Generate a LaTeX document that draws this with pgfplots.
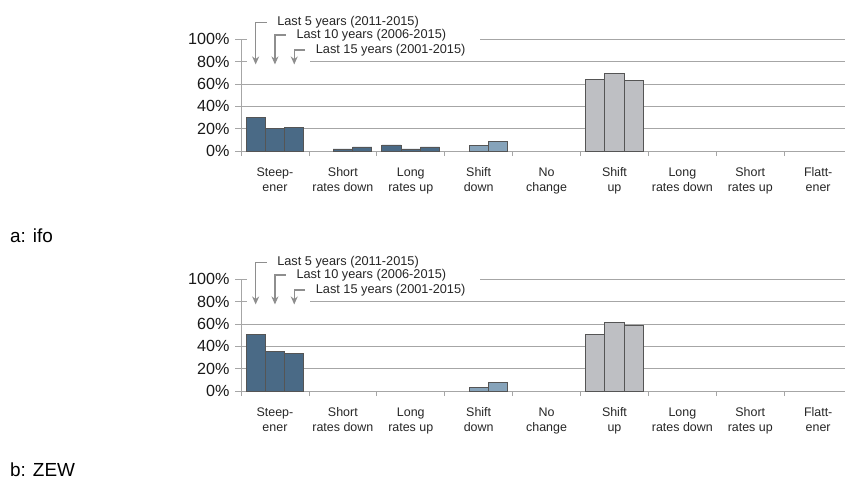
\documentclass[border=0pt]{standalone}
\usepackage{fontspec}
\setmainfont{Liberation Sans}
\usepackage{pgfplots}
\pgfplotsset{compat=1.18}
\usetikzlibrary{arrows.meta}
\definecolor{darkblue}{HTML}{4A6A86}
\definecolor{lightblue}{HTML}{86A3BA}
\definecolor{barggray}{HTML}{BEBFC3}
\definecolor{edgegray}{HTML}{555555}
\definecolor{gridgray}{HTML}{A6A6A6}
\definecolor{arrowgray}{HTML}{8E8E8E}

\pgfplotsset{
 panel/.style={
  scale only axis, width=604bp, height=111.7bp,
  xmin=-0.5, xmax=8.395, ymin=0, ymax=100,
  clip=false,
  axis lines*=left,
  axis line style={gridgray, line width=0.8bp},
  tick align=outside,
  tick style={gridgray, line width=0.8bp},
  major tick length=6bp, minor tick length=5bp,
  xtick={0,...,8},
  major x tick style={draw=none},
  minor xtick={-0.5,0.5,...,7.5},
  xticklabels={Steep-\\ener, Short\\rates down, Long\\rates up, Shift\\down, No\\change, Shift\\up, Long\\rates down, Short\\rates up, Flatt-\\ener},
  xticklabel style={align=center, font=\fontsize{12.5}{15}\selectfont, text=black!85, yshift=-7bp},
  ytick={0,20,...,100},
  yticklabels={0\%,20\%,40\%,60\%,80\%,100\%},
  yticklabel style={font=\fontsize{16.2}{19}\selectfont, text=black!90, xshift=-2bp},
  ymajorgrids, grid style={gridgray, line width=0.9bp},
  every axis plot/.append style={ybar, bar width=0.284, draw=edgegray, line width=0.9bp},
 },
 s1/.style={bar shift=-0.284},
 s2/.style={bar shift=0},
 s3/.style={bar shift=0.284},
}

\newcommand{\annot}{%
  \fill[white] (axis cs:-0.41,94.5) rectangle (axis cs:3.02,124);
  \fill[white] (axis cs:-0.41,76) rectangle (axis cs:0.516,87);
  \begin{scope}[arrowgray, line width=1.2bp, font=\fontsize{12.8}{15}\selectfont]
  \draw[-{Stealth[length=8bp,width=7bp]}] (axis cs:-0.122,114.9) -- (axis cs:-0.284,114.9) -- (axis cs:-0.284,77.5);
  \draw[-{Stealth[length=8bp,width=7bp]}] (axis cs:0.162,103.9) -- (axis cs:0,103.9) -- (axis cs:0,77.5);
  \draw[-{Stealth[length=8bp,width=7bp]}] (axis cs:0.446,90.4) -- (axis cs:0.284,90.4) -- (axis cs:0.284,77.5);
  \node[anchor=west, inner sep=0, text=black!85, xshift=10bp] at (axis cs:-0.122,114.9) {Last 5 years (2011-2015)};
  \node[anchor=west, inner sep=0, text=black!85, xshift=10bp] at (axis cs:0.162,103.9) {Last 10 years (2006-2015)};
  \node[anchor=west, inner sep=0, text=black!85, xshift=10bp] at (axis cs:0.446,90.4) {Last 15 years (2001-2015)};
  \end{scope}
}

\begin{document}
\begin{tikzpicture}
\useasboundingbox (0,-481bp) rectangle (845bp,0);
% Panel a: ifo
\begin{axis}[panel, at={(241bp,-151bp)}, anchor=south west]
 % last 5 years
 \addplot[s1, fill=darkblue] coordinates {(0,30) (2,5.4)};
 \addplot[s1, fill=barggray] coordinates {(5,64)};
 % last 10 years
 \addplot[s2, fill=darkblue] coordinates {(0,20) (1,1.8) (2,1.8)};
 \addplot[s2, fill=lightblue] coordinates {(3,5.4)};
 \addplot[s2, fill=barggray] coordinates {(5,69.6)};
 % last 15 years
 \addplot[s3, fill=darkblue] coordinates {(0,21.4) (1,3.6) (2,3.6)};
 \addplot[s3, fill=lightblue] coordinates {(3,8.6)};
 \addplot[s3, fill=barggray] coordinates {(5,63)};
 \annot
\end{axis}
% Panel b: ZEW
\begin{axis}[panel, at={(241bp,-391bp)}, anchor=south west]
 % last 5 years
 \addplot[s1, fill=darkblue] coordinates {(0,50.4)};
 \addplot[s1, fill=barggray] coordinates {(5,50.4)};
 % last 10 years
 \addplot[s2, fill=darkblue] coordinates {(0,35.2)};
 \addplot[s2, fill=lightblue] coordinates {(3,3.6)};
 \addplot[s2, fill=barggray] coordinates {(5,61.5)};
 % last 15 years
 \addplot[s3, fill=darkblue] coordinates {(0,33.4)};
 \addplot[s3, fill=lightblue] coordinates {(3,7.5)};
 \addplot[s3, fill=barggray] coordinates {(5,59)};
 \annot
\end{axis}
\node[anchor=base west, inner sep=0, font=\fontsize{19}{22}\selectfont] at (10bp,-242bp) {a: ifo};
\node[anchor=base west, inner sep=0, font=\fontsize{19}{22}\selectfont] at (10bp,-476bp) {b: ZEW};
\end{tikzpicture}
\end{document}
